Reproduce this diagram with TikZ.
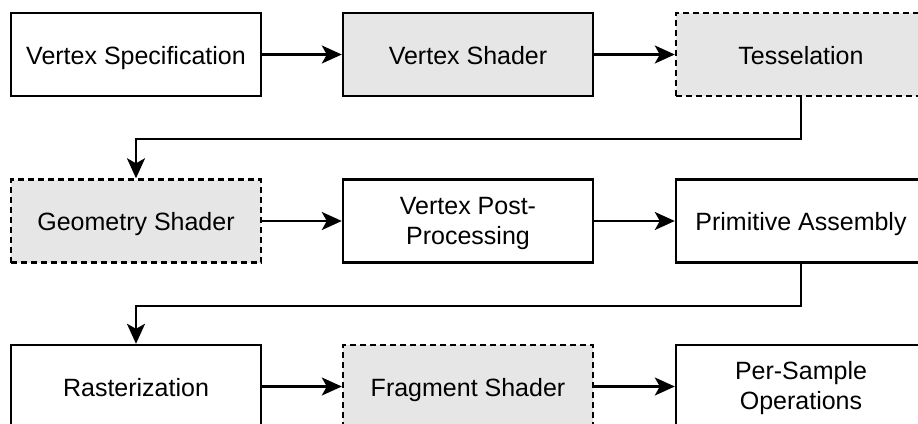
\documentclass[tikz,border=0pt]{standalone}
\usepackage{fontspec}
\setmainfont{Liberation Sans}
\usetikzlibrary{arrows.meta}
\definecolor{shade}{HTML}{E6E6E6}
\begin{document}
\begin{tikzpicture}[x=1pt,y=-1pt,
  base/.style={draw=black,line width=2.4pt,minimum width=250pt,minimum height=83pt,inner sep=0pt,align=center,font=\fontsize{25}{30}\selectfont,text=black},
  box/.style={base,text height=21pt,text depth=2pt},
  twobox/.style={base,yshift=-2pt},
  filledbox/.style={box,fill=shade},
  dashbox/.style={box,fill=shade,dash pattern=on 6pt off 4pt},
  conn/.style={draw=black,line width=2.4pt,-{Stealth[length=20pt,width=18pt,inset=5pt]}}]
\path[use as bounding box] (0,0) rectangle (918,423);
\node[box] (vs) at (136,54.5) {Vertex Specification};
\node[filledbox] (vsh) at (468,54.5) {Vertex Shader};
\node[dashbox] (tes) at (801,54.5) {Tesselation};
\node[dashbox] (geo) at (136,221) {Geometry Shader};
\node[box] (vpp) at (468,221) {};
\node[twobox,draw=none] at (vpp.center) {Vertex Post-\\Processing};
\node[box] (pa) at (801,221) {Primitive Assembly};
\node[box] (ras) at (136,386.5) {Rasterization};
\node[dashbox] (frag) at (468,386.5) {Fragment Shader};
\node[box] (ps) at (801,386.5) {};
\node[twobox,draw=none] at (ps.center) {Per-Sample\\Operations};
\draw[conn] (vs) -- (vsh);
\draw[conn] (vsh) -- (tes);
\draw[conn] (tes.south) -- ++(0,41.5) -| (geo.north);
\draw[conn] (geo) -- (vpp);
\draw[conn] (vpp) -- (pa);
\draw[conn] (pa.south) -- ++(0,42) -| (ras.north);
\draw[conn] (ras) -- (frag);
\draw[conn] (frag) -- (ps);
\end{tikzpicture}
\end{document}
